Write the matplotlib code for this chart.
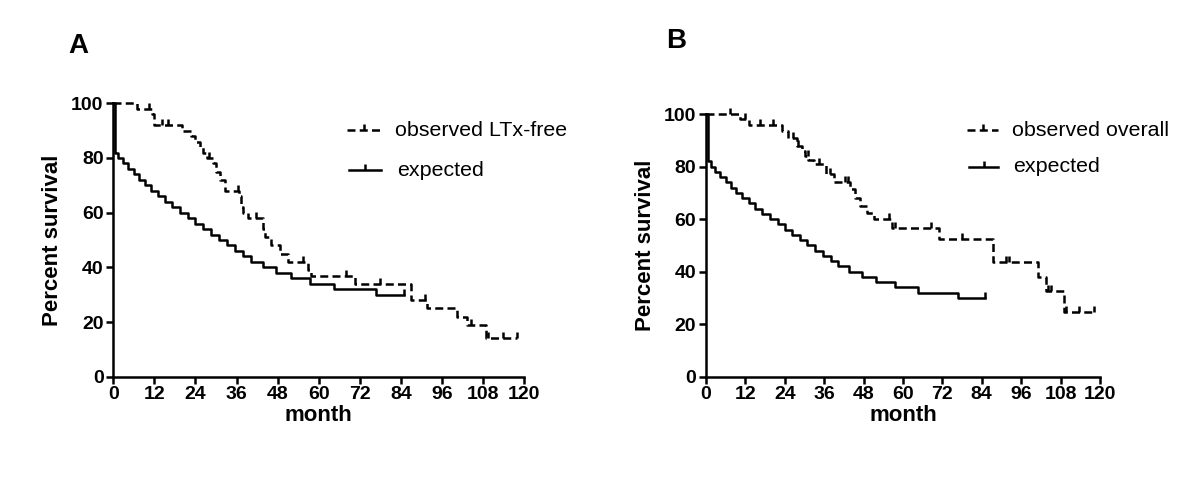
import numpy as np
import matplotlib
matplotlib.use("Agg")
import matplotlib.pyplot as plt
from matplotlib.path import Path
from matplotlib.lines import Line2D

plt.rcParams['font.family'] = ['Liberation Sans', 'DejaVu Sans']

# expected survival (same curve in both panels)
exp_t = [0, 0.6, 1.5, 2.9, 4.4, 6.0, 7.6, 9.3, 11.0, 13.0, 15.0, 17.2, 19.5, 21.8,
         24.0, 26.2, 28.5, 30.8, 33.2, 35.6, 38.0, 40.3, 43.7, 47.6, 51.8, 57.6,
         64.6, 76.7, 85.0]
exp_s = [100, 82, 80, 78, 76, 74, 72, 70, 68, 66, 64, 62, 60, 58,
         56, 54, 52, 50, 48, 46, 44, 42, 40, 38, 36, 34,
         32, 30, 30]
exp_cens = [85.0]

# panel A: observed LTx-free
obsA_t = [0, 6.8, 11.2, 12, 20, 22.8, 24, 25.2, 26.2, 27.4, 29.1, 30.1, 31.1, 32.5,
          36.7, 37.4, 37.9, 39.3, 43.7, 44.2, 46.1, 48.6, 51, 56.8, 57.8, 70.6,
          87.1, 91.7, 100.3, 103.2, 109, 118.0]
obsA_s = [100, 98, 96, 92, 90, 88, 86, 84, 82, 80, 78, 75, 72, 68,
          66, 62, 60, 58, 54, 51, 48, 45, 42, 39, 37, 34,
          28, 25, 22, 19, 14, 14]
obsA_cens = [10.5, 14.1, 16.1, 28.1, 36.3, 41.8, 55.4, 68.1, 77.9, 91.0,
             104.4, 109.6, 113.8, 118.0]

# panel B: observed overall
obsB_t = [0, 10.4, 13.2, 23.1, 25.1, 27.7, 29.2, 30.2, 31.2, 32.8, 36.7, 38.9,
          44.0, 45.5, 47.0, 49.1, 51.1, 56.7, 70.9, 87.5, 101.0, 103.7, 109.1, 118.3]
obsB_s = [100, 98, 96, 93.5, 91, 88, 86, 84, 82.5, 81, 77, 74,
          71.5, 68, 65, 62.5, 60, 56.5, 52.3, 43.5, 38, 32.6, 24.7, 24.7]
obsB_cens = [7.3, 11.9, 16.5, 20.5, 26.5, 28.0, 31.0, 34.5, 37.9, 42.4, 43.4,
             55.7, 57.7, 68.4, 78.1, 91.3, 92.3, 104.3, 105.0, 109.6, 113.7, 118.3]

xticks = [0, 12, 24, 36, 48, 60, 72, 84, 96, 108, 120]
yticks = [0, 20, 40, 60, 80, 100]

tick_mark = Path([(0, 0), (0, 1)], [Path.MOVETO, Path.LINETO])
DASH = (0, (3.2, 1.7))
LW = 1.8


def step_value(t, s, x):
    i = np.searchsorted(t, x, side='right') - 1
    return np.array(s)[i]


def km(ax, t, s, cens, ls):
    ax.step(t, s, where='post', color='black', lw=LW, ls=ls, clip_on=False)
    ax.plot(cens, step_value(t, s, cens), ls='none', marker=tick_mark, ms=8,
            mew=LW, color='black', clip_on=False)


def style(ax):
    ax.set_xlim(0, 120)
    ax.set_ylim(0, 100)
    ax.spines['top'].set_visible(False)
    ax.spines['right'].set_visible(False)
    for sp in ['left', 'bottom']:
        ax.spines[sp].set_linewidth(LW)
    ax.set_xticks(xticks)
    ax.set_yticks(yticks)
    ax.tick_params(length=5, width=LW, direction='out', pad=2, labelsize=14)
    for lab in ax.get_xticklabels() + ax.get_yticklabels():
        lab.set_fontweight('bold')
    ax.set_xlabel('month', fontsize=16, fontweight='bold', labelpad=1)
    ax.set_ylabel('Percent survival', fontsize=16, fontweight='bold', labelpad=6)


def legend_row(fig, x0, x1, ypx, text, xt, ls):
    W, H = 1200.0, 478.0
    y = (H - ypx) / H
    xs = [x0 / W, (x0 + x1) / 2 / W, x1 / W]
    fig.add_artist(Line2D(xs, [y, y, y], color='black', lw=LW, ls=ls,
                          marker=tick_mark, markevery=[1], ms=8, mew=LW))
    fig.text(xt / W, y, text, fontsize=15.4, va='center', ha='left')


fig = plt.figure(figsize=(12, 4.78), dpi=100)
axA = fig.add_axes([0.0944, 0.2119, 0.3423, 0.572])
axB = fig.add_axes([0.5883, 0.2119, 0.3283, 0.5496])

km(axA, exp_t, exp_s, exp_cens, '-')
km(axA, obsA_t, obsA_s, obsA_cens, DASH)
style(axA)

km(axB, exp_t, exp_s, exp_cens, '-')
km(axB, obsB_t, obsB_s, obsB_cens, DASH)
style(axB)

legend_row(fig, 347, 381, 130, 'observed LTx-free', 395, DASH)
legend_row(fig, 349, 381, 170, 'expected', 397, '-')
legend_row(fig, 967, 998, 130, 'observed overall', 1012, DASH)
legend_row(fig, 969, 998, 167, 'expected', 1013, '-')

fig.text(68 / 1200, (478 - 46) / 478, 'A', fontsize=20, fontweight='bold', va='center')
fig.text(666 / 1200, (478 - 41) / 478, 'B', fontsize=20, fontweight='bold', va='center')

fig.savefig('out.png', dpi=100)
